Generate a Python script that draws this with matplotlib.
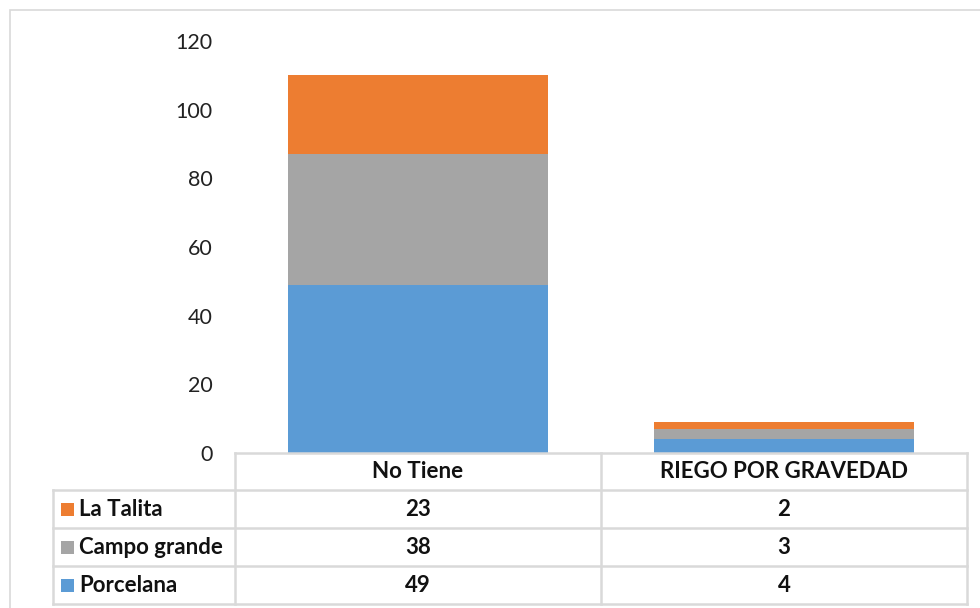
import matplotlib.pyplot as plt
import matplotlib.transforms as mtransforms
from matplotlib.patches import Rectangle

# data
categories = ["No Tiene", "RIEGO POR GRAVEDAD"]
series_names = ["Porcelana", "Campo grande", "La Talita"]
porcelana = [49, 4]
campo_grande = [38, 3]
la_talita = [23, 2]
series_values = [porcelana, campo_grande, la_talita]
colors = ["#5B9BD5", "#A5A5A5", "#ED7D31"]
yticks = [0, 20, 40, 60, 80, 100, 120]

plt.rcParams["font.family"] = ["Lato", "DejaVu Sans"]

W, H = 980, 608
fig = plt.figure(figsize=(W / 100, H / 100), dpi=100)

# plot area in pixels
x0, x1 = 235, 967
y_top, y_zero = 41, 453
ax = fig.add_axes([x0 / W, 1 - y_zero / H, (x1 - x0) / W, (y_zero - y_top) / H])

x = list(range(len(categories)))
bottom = [0] * len(categories)
for name, vals, c in zip(series_names, series_values, colors):
    ax.bar(x, vals, width=0.71, bottom=bottom, color=c, label=name)
    bottom = [b + v for b, v in zip(bottom, vals)]

ax.set_xlim(-0.5, len(categories) - 0.5)
ax.set_ylim(0, 120)
ax.set_yticks(yticks)
ax.set_yticklabels([str(t) for t in yticks], fontsize=15.5, color="#222222")
ax.tick_params(axis="y", length=0, pad=16)
ax.set_xticks([])
for s in ax.spines.values():
    s.set_visible(False)

# data table below the plot
px_h = y_zero - y_top
def ay(ypx):
    return (y_zero - ypx) / px_h

def axx(xpx):
    return (xpx - x0) / (x1 - x0)

row_edges = [453, 490, 528, 566, 604]
left_col = 53
grid_col = "#d9d9d9"
lw = 1.8
lkw = dict(color=grid_col, lw=lw, transform=ax.transAxes, clip_on=False)
tkw = dict(fontsize=16, fontweight="bold", color="#111111", va="center")

# horizontal lines
ax.plot([axx(x0), 1], [ay(row_edges[0])] * 2, **lkw)
for r in row_edges[1:]:
    ax.plot([axx(left_col), 1], [ay(r)] * 2, **lkw)
# vertical lines
ax.plot([axx(left_col)] * 2, [ay(row_edges[1]), ay(row_edges[-1])], **lkw)
for i in range(len(categories) + 1):
    xa = i / len(categories)
    ax.plot([xa, xa], [ay(row_edges[0]), ay(row_edges[-1])], **lkw)

blend = mtransforms.blended_transform_factory(ax.transData, ax.transAxes)
for i, cat in enumerate(categories):
    ymid = ay((row_edges[0] + row_edges[1]) / 2)
    ax.text(i, ymid, cat, transform=blend, ha="center", **tkw)

# rows in legend order: La Talita, Campo grande, Porcelana
order = [2, 1, 0]
for k, si in enumerate(order):
    ymid = ay((row_edges[k + 1] + row_edges[k + 2]) / 2)
    sq = 13
    ax.add_patch(Rectangle((axx(61), ymid - (sq / 2) / px_h), sq / (x1 - x0), sq / px_h,
                           transform=ax.transAxes, clip_on=False,
                           color=colors[si], lw=0))
    ax.text(axx(79), ymid, series_names[si], transform=ax.transAxes,
            ha="left", **tkw)
    for i, v in enumerate(series_values[si]):
        ax.text(i, ymid, str(v), transform=blend, ha="center", **tkw)

# chart outer border
fig.add_artist(Rectangle((10 / W, -0.01), 1.1, 1 - 10 / H + 0.01,
                         transform=fig.transFigure, fill=False,
                         edgecolor=grid_col, lw=1.2))

fig.savefig("out.png", dpi=100)
